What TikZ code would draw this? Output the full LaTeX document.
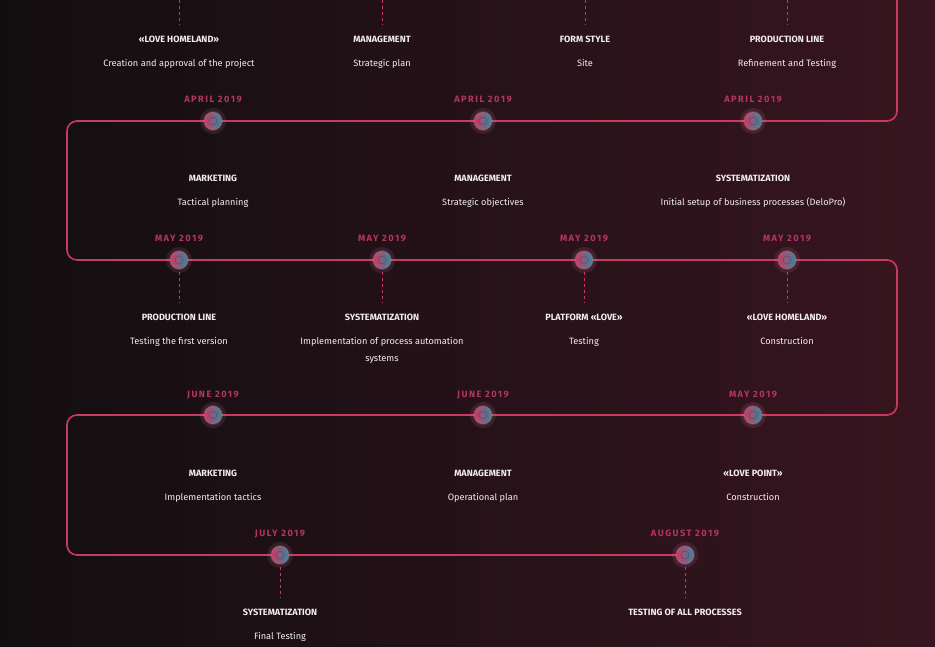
\documentclass[tikz,border=0pt]{standalone}
\usepackage{fontspec}
\setmainfont{Fira Sans}
\newfontfamily\datefont[LetterSpace=16]{Fira Sans}
\definecolor{bgleft}{HTML}{120E10}
\definecolor{bgright}{HTML}{381520}
\definecolor{route}{HTML}{C93A5F}
\definecolor{datecol}{HTML}{B5365C}
\definecolor{dotpink}{HTML}{CC3A64}
\definecolor{dotteal}{HTML}{2E8AA0}
\definecolor{txt}{HTML}{F2EEEF}
\begin{document}
\begin{tikzpicture}[x=1pt,y=-1pt,inner sep=0pt,outer sep=0pt,
route/.style={draw=route,line width=1.6pt,rounded corners=10pt},
stem/.style={draw=route,line width=.8pt,dash pattern=on 3pt off 3pt,shorten <=3pt,shorten >=11pt},
dot/.style={circle,minimum size=18pt,left color=dotpink,right color=dotteal,
  draw=white!40!dotpink,draw opacity=.2,line width=2pt,
  preaction={draw=dotpink!60!white,draw opacity=.12,line width=8pt},
  path picture={\draw[black,opacity=.2,line width=.7pt] (path picture bounding box.center) circle (4pt);}},
date/.style={font=\datefont\bfseries\fontsize{9.2}{11}\selectfont,text=datecol,anchor=base},
title/.style={font=\bfseries\fontsize{9.1}{11}\selectfont,text=txt,anchor=base},
desc/.style={font=\fontsize{9.2}{17}\selectfont,text=txt,align=center,anchor=base}]
\shade[left color=bgleft,right color=bgright] (0,0) rectangle (935,646);
\useasboundingbox (0,0) rectangle (935,646);
% route
\coordinate (k0) at (897,0);
\coordinate (k1) at (897,121);
\coordinate (k2) at (67,121);
\coordinate (k3) at (67,260);
\coordinate (k4) at (897,260);
\coordinate (k5) at (897,415);
\coordinate (k6) at (67,415);
\coordinate (k7) at (67,555);
\coordinate (k8) at (685,555);
\draw[route] (k0) -- (k1) -- (k2) -- (k3) -- (k4) -- (k5) -- (k6) -- (k7) -- (k8);
% texts of the row above
\foreach \n/\x/\t/\s in {a/179/«LOVE HOMELAND»/Creation and approval of the project,
  b/382/MANAGEMENT/Strategic plan, c/585/FORM STYLE/Site, d/787/PRODUCTION LINE/Refinement and Testing}{
  \coordinate (p\n) at (\x,0);
  \node[title] (t\n) at (\x,42) {\t};
  \node[desc] (s\n) at (\x,66) {\s};
  \draw[stem,shorten <=0pt] (p\n) -- (t\n);
}
% april
\foreach \n/\x/\t/\s in {e/213/MARKETING/Tactical planning, f/483/MANAGEMENT/Strategic objectives,
  g/753/SYSTEMATIZATION/Initial setup of business processes (DeloPro)}{
  \node[dot] (d\n) at (\x,121) {};
  \node[date] (m\n) at (\x,102) {APRIL 2019};
  \node[title] (t\n) at (\x,181) {\t};
  \node[desc] (s\n) at (\x,205) {\s};
}
% may
\foreach \n/\x/\t/\s in {h/179/PRODUCTION LINE/Testing the first version,
  j/584/PLATFORM «LOVE»/Testing, k/787/«LOVE HOMELAND»/Construction}{
  \node[dot] (d\n) at (\x,260) {};
  \node[date] (m\n) at (\x,241) {MAY 2019};
  \node[title] (t\n) at (\x,320) {\t};
  \node[desc] (s\n) at (\x,344) {\s};
  \draw[stem] (d\n) -- (t\n);
}
\node[dot] (di) at (382,260) {};
\node[date] (mi) at (382,241) {MAY 2019};
\node[title] (ti) at (382,320) {SYSTEMATIZATION};
\node[desc] (si) at (382,361) {Implementation of process automation\\systems};
\draw[stem] (di) -- (ti);
% june
\foreach \n/\x/\d/\t/\s in {l/213/JUNE 2019/MARKETING/Implementation tactics,
  m/483/JUNE 2019/MANAGEMENT/Operational plan, n/753/MAY 2019/«LOVE POINT»/Construction}{
  \node[dot] (d\n) at (\x,415) {};
  \node[date] (m\n) at (\x,397) {\d};
  \node[title] (t\n) at (\x,476) {\t};
  \node[desc] (s\n) at (\x,500) {\s};
}
% july, august
\node[dot] (do) at (280,555) {};
\node[date] (mo) at (280,536) {JULY 2019};
\node[title] (to) at (280,615) {SYSTEMATIZATION};
\node[desc] (so) at (280,639) {Final Testing};
\draw[stem] (do) -- (to);
\node[dot] (dp) at (685,555) {};
\node[date] (mp) at (685,536) {AUGUST 2019};
\node[title] (tp) at (685,615) {TESTING OF ALL PROCESSES};
\draw[stem] (dp) -- (tp);
\end{tikzpicture}
\end{document}
